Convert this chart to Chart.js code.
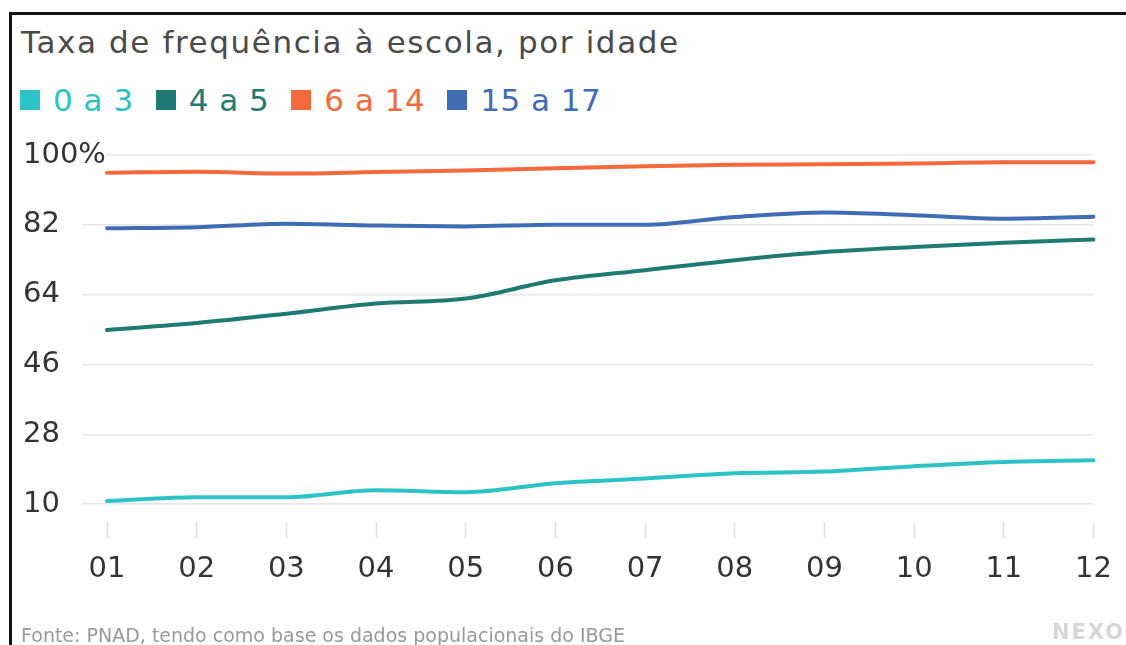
<!DOCTYPE html>
<html>
<head>
<meta charset="utf-8">
<script src="https://cdn.jsdelivr.net/npm/chart.js@4"></script>
<style>
  body { margin: 0; width: 1126px; height: 645px; overflow: hidden; background: #fff; font-family: "DejaVu Sans", sans-serif; position: relative; }
  #frame { position: absolute; left: 9px; top: 12px; width: 1200px; height: 700px; border-left: 3px solid #111; border-top: 3px solid #111; }
  #title { position: absolute; left: 21px; top: 24px; font-size: 31px; line-height: 1.2; letter-spacing: 1.6px; color: #4a4a4a; white-space: nowrap; }
  #legend { position: absolute; left: 20px; top: 82px; font-size: 31px; line-height: 1.2; letter-spacing: 0.5px; white-space: nowrap; }
  #legend span.item { margin-right: 22px; }
  #legend span.box { display: inline-block; width: 20px; height: 20px; margin-right: 13px; vertical-align: 1px; }
  #wrap { position: absolute; left: 0; top: 120px; width: 1126px; height: 525px; }
  #footer { position: absolute; left: 21px; top: 624px; font-size: 19px; line-height: 1.2; color: #999; white-space: nowrap; }
  #logo { position: absolute; left: 1052px; top: 620px; font-size: 21px; font-weight: bold; color: #d6d6d6; letter-spacing: 2px; }
</style>
</head>
<body>
<div id="frame"></div>
<div id="title">Taxa de frequência à escola, por idade</div>
<div id="legend"></div>
<div id="wrap"><canvas id="chart"></canvas></div>
<div id="footer">Fonte: PNAD, tendo como base os dados populacionais do IBGE</div>
<div id="logo">NEXO</div>
<script>
const labels   = ['01','02','03','04','05','06','07','08','09','10','11','12'];
const age0to3  = [10.8, 11.8, 11.8, 13.6, 13.1, 15.4, 16.6, 18.0, 18.4, 19.8, 20.9, 21.3];
const age4to5  = [54.9, 56.7, 59.1, 61.7, 63.0, 67.7, 70.3, 72.9, 75.0, 76.3, 77.4, 78.2];
const age6to14 = [95.4, 95.7, 95.2, 95.6, 96.0, 96.6, 97.1, 97.5, 97.6, 97.8, 98.1, 98.1];
const age15to17 = [81.1, 81.4, 82.3, 81.8, 81.6, 82.0, 82.0, 84.0, 85.2, 84.5, 83.6, 84.1];
const yTicks   = [10, 28, 46, 64, 82, 100];

const seriesNames  = ['0 a 3', '4 a 5', '6 a 14', '15 a 17'];
const seriesColors = ['#2bc3c5', '#1f7a73', '#f4693b', '#3f6db5'];
const seriesData   = [age0to3, age4to5, age6to14, age15to17];

// legend as html
const legend = document.getElementById('legend');
seriesNames.forEach(function(name, i){
    const item = document.createElement('span');
    item.className = 'item';
    item.style.color = seriesColors[i];
    item.innerHTML = '<span class="box" style="background:' + seriesColors[i] + '"></span>' + name;
    legend.appendChild(item);
});

const ctx = document.getElementById('chart').getContext('2d');

const chart = new Chart(ctx, {
    type: 'line',
    data: {
        labels: labels,
        datasets: seriesData.map(function(d, i){
            return {
                label: seriesNames[i],
                data: d,
                borderColor: seriesColors[i],
                backgroundColor: seriesColors[i],
                borderWidth: 4,
                pointRadius: 0,
                cubicInterpolationMode: 'monotone',
                borderCapStyle: 'round'
            };
        })
    },
    options: {
        responsive: true,
        maintainAspectRatio: false,
        animation: false,
        layout: { padding: { left: 23, right: 31, top: 35, bottom: 44 } },
        plugins: {
            legend: { display: false },
            tooltip: { enabled: false }
        },
        scales: {
            x: {
                offset: false,
                border: { display: false },
                grid: {
                    drawOnChartArea: false,
                    tickLength: 34,
                    tickColor: '#e0e0e0',
                    tickWidth: 1.5,
                    tickBorderDash: [0, 18, 16, 100]
                },
                ticks: {
                    color: '#333',
                    font: { family: 'DejaVu Sans', size: 29 },
                    padding: 14,
                    maxRotation: 0,
                    autoSkip: false
                }
            },
            y: {
                min: 10,
                max: 100,
                border: { display: false },
                afterBuildTicks: function(scale){
                    scale.ticks = yTicks.map(function(v){ return { value: v }; });
                },
                afterFit: function(scale){
                    scale.width = 84;
                },
                grid: {
                    color: '#e6e6e6',
                    lineWidth: 1.5,
                    tickLength: 25,
                    tickColor: '#e6e6e6'
                },
                ticks: {
                    color: '#333',
                    font: { family: 'DejaVu Sans', size: 29 },
                    crossAlign: 'far',
                    showLabelBackdrop: true,
                    backdropColor: '#fff',
                    backdropPadding: { top: 0, bottom: 0, left: 0, right: 12 },
                    callback: function(v){ return v === 100 ? '100%' : v; }
                }
            }
        }
    }
});
</script>
</body>
</html>
